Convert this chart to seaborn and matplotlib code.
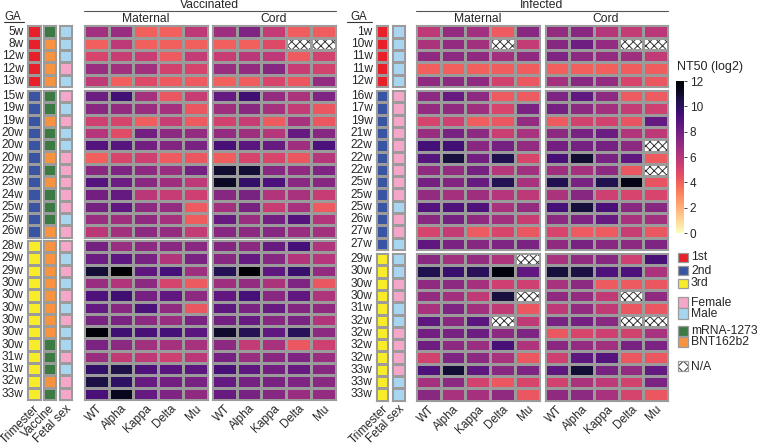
import numpy as np
import pandas as pd
import matplotlib
matplotlib.use('Agg')
import matplotlib.pyplot as plt
import seaborn as sns
from matplotlib.colors import ListedColormap
from matplotlib.patches import Rectangle

NA = np.nan
variants = ['WT', 'Alpha', 'Kappa', 'Delta', 'Mu']

# ---- vaccinated cohort ----
vacc_ga = ['5w', '8w', '12w', '12w', '13w',
           '15w', '19w', '19w', '20w', '20w', '20w', '22w', '23w', '24w', '25w', '25w', '26w',
           '28w', '29w', '29w', '30w', '30w', '30w', '30w', '30w', '30w', '31w', '31w', '32w', '33w']
vacc_trimester = ['1st', '1st', '1st', '1st', '1st',
                  '2nd', '2nd', '2nd', '2nd', '2nd', '2nd', '2nd', '2nd', '2nd', '2nd', '2nd', '2nd',
                  '3rd', '3rd', '3rd', '3rd', '3rd', '3rd', '3rd', '3rd', '3rd', '3rd', '3rd', '3rd', '3rd']
vacc_vaccine = ['mRNA-1273', 'BNT162b2', 'BNT162b2', 'BNT162b2', 'BNT162b2',
                'mRNA-1273', 'mRNA-1273', 'BNT162b2', 'mRNA-1273', 'mRNA-1273', 'BNT162b2', 'mRNA-1273',
                'BNT162b2', 'mRNA-1273', 'mRNA-1273', 'mRNA-1273', 'BNT162b2',
                'BNT162b2', 'BNT162b2', 'BNT162b2', 'BNT162b2', 'BNT162b2', 'BNT162b2', 'BNT162b2',
                'BNT162b2', 'mRNA-1273', 'mRNA-1273', 'mRNA-1273', 'BNT162b2', 'mRNA-1273']
vacc_sex = ['Male', 'Male', 'Male', 'Female', 'Male',
            'Female', 'Male', 'Female', 'Male', 'Male', 'Female', 'Female', 'Female', 'Female', 'Female', 'Male', 'Female',
            'Female', 'Male', 'Female', 'Male', 'Female', 'Male', 'Female', 'Male', 'Male', 'Female', 'Male', 'Female', 'Female']

vacc_maternal = [
    [6.6, 6.8, 4.0, 4.0, 5.8], [4.0, 5.8, 4.0, 4.0, 4.0], [5.0, 5.5, 5.5, 4.2, 5.6],
    [6.8, 6.6, 6.6, 5.2, 5.1], [5.7, 4.0, 4.8, 4.2, 4.2],
    [8.2, 9.4, 6.5, 4.3, 5.5], [7.3, 7.0, 6.8, 6.5, 4.3], [5.3, 5.1, 4.1, 5.5, 4.2],
    [6.0, 4.7, 8.0, 7.2, 7.0], [8.9, 8.8, 8.0, 7.5, 7.8], [4.0, 5.0, 5.3, 4.2, 4.3],
    [7.3, 7.6, 7.2, 6.8, 7.9], [8.9, 8.2, 7.3, 6.7, 5.8], [8.0, 8.4, 5.9, 5.5, 5.3],
    [7.9, 8.5, 7.2, 7.0, 4.2], [6.8, 6.7, 7.1, 6.5, 4.1], [5.9, 6.6, 7.2, 7.0, 5.6],
    [7.9, 6.8, 7.2, 7.3, 7.3], [8.2, 8.6, 7.8, 6.1, 7.7], [10.8, 12.0, 8.6, 9.3, 6.7],
    [6.8, 6.1, 7.2, 5.1, 4.2], [9.0, 9.5, 7.9, 8.5, 7.2], [8.4, 7.3, 9.1, 7.1, 4.3],
    [7.8, 7.7, 7.2, 6.8, 7.7], [11.8, 9.5, 9.2, 9.3, 8.7], [7.7, 7.2, 6.6, 6.5, 6.4],
    [6.8, 5.7, 5.8, 5.3, 5.9], [9.8, 10.4, 9.0, 8.7, 8.6], [10.5, 9.9, 8.3, 8.0, 7.8],
    [9.2, 11.3, 8.4, 7.6, 7.1],
]
vacc_cord = [
    [6.7, 7.6, 5.6, 4.1, 4.1], [4.0, 4.0, 4.8, NA, NA], [5.5, 5.9, 5.8, 4.2, 5.2],
    [6.8, 7.0, 7.4, 5.5, 5.2], [4.0, 4.1, 5.0, 4.3, 7.0],
    [8.4, 9.5, 7.0, 6.3, 7.6], [6.7, 7.3, 6.5, 5.6, 4.3], [5.2, 5.5, 4.2, 6.4, 4.3],
    [7.0, 6.7, 6.0, 8.4, 7.4], [9.2, 8.7, 8.3, 6.7, 9.1], [4.1, 5.1, 5.0, 4.3, 6.0],
    [10.9, 10.8, 7.4, 7.1, 7.6], [11.2, 9.8, 9.1, 7.3, 7.4], [7.4, 7.8, 6.1, 6.4, 5.5],
    [6.6, 7.8, 5.5, 6.4, 4.2], [8.3, 6.8, 8.0, 8.9, 6.1], [7.3, 7.2, 7.4, 6.8, 6.6],
    [7.5, 7.2, 8.3, 9.3, 6.2], [7.4, 8.4, 7.4, 6.1, 6.0], [10.2, 12.0, 8.6, 9.7, 7.0],
    [6.7, 7.0, 6.3, 7.6, 4.3], [8.5, 9.3, 7.3, 8.5, 6.2], [8.6, 7.7, 8.3, 7.5, 7.1],
    [8.0, 8.3, 7.4, 7.7, 6.1], [11.0, 10.2, 8.5, 10.1, 7.2], [7.2, 5.6, 6.4, 4.3, 5.3],
    [7.9, 6.8, 7.3, 7.6, 6.8], [9.2, 8.6, 8.0, 8.3, 7.4], [8.4, 7.9, 7.8, 7.6, 7.3],
    [8.3, 7.8, 7.4, 6.8, 7.0],
]

# ---- infected cohort ----
inf_ga = ['1w', '10w', '11w', '11w', '12w',
          '16w', '17w', '19w', '21w', '22w', '22w', '22w', '25w', '25w', '25w', '26w', '27w', '27w',
          '29w', '30w', '30w', '30w', '31w', '32w', '32w', '32w', '32w', '33w', '33w', '33w']
inf_trimester = ['1st', '1st', '1st', '1st', '1st',
                 '2nd', '2nd', '2nd', '2nd', '2nd', '2nd', '2nd', '2nd', '2nd', '2nd', '2nd', '2nd', '2nd',
                 '3rd', '3rd', '3rd', '3rd', '3rd', '3rd', '3rd', '3rd', '3rd', '3rd', '3rd', '3rd']
inf_sex = ['Male', 'Male', 'Male', 'Male', 'Male',
           'Female', 'Female', 'Female', 'Female', 'Female', 'Female', 'Female', 'Female', 'Female', 'Male',
           'Female', 'Female', 'Male',
           'Male', 'Male', 'Female', 'Female', 'Male', 'Male', 'Female', 'Female', 'Female', 'Female', 'Male', 'Male']

inf_maternal = [
    [5.8, 7.0, 6.6, 4.2, 7.3], [6.3, 7.0, 6.6, NA, 5.6], [7.1, 7.2, 7.1, 6.6, 7.1],
    [4.0, 4.0, 4.0, 4.1, 4.1], [7.1, 7.2, 7.1, 5.2, 4.3],
    [7.2, 8.3, 7.2, 4.2, 4.2], [7.0, 7.1, 6.7, 5.0, 7.7], [5.1, 5.3, 4.1, 4.3, 7.0],
    [6.8, 7.8, 7.2, 5.4, 6.4], [9.3, 9.4, 7.3, 7.9, 7.0], [8.8, 10.6, 8.0, 10.3, 5.0],
    [7.1, 7.0, 7.9, 6.0, 6.6], [7.9, 7.5, 8.3, 10.2, 6.4], [7.0, 6.5, 6.7, 6.0, 5.8],
    [8.9, 9.0, 9.0, 6.4, 7.0], [7.3, 7.9, 7.1, 6.6, 5.5], [5.1, 5.6, 4.2, 5.0, 4.3],
    [8.5, 7.7, 7.4, 7.6, 7.7],
    [7.3, 6.6, 7.0, 6.2, NA], [10.3, 9.7, 10.1, 11.7, 8.5], [7.1, 7.2, 6.5, 5.3, 5.3],
    [7.0, 6.6, 5.7, 10.6, NA], [6.4, 7.6, 6.6, 5.7, 4.3], [8.6, 7.3, 8.7, NA, 5.7],
    [8.0, 7.8, 8.2, 7.2, 7.6], [8.1, 7.2, 6.8, 9.2, 6.2], [5.2, 7.6, 7.2, 6.4, 4.3],
    [9.0, 10.8, 8.6, 7.3, 7.6], [6.5, 7.2, 5.2, 4.3, 5.0], [7.3, 6.4, 6.5, 7.1, 4.3],
]
inf_cord = [
    [7.0, 7.3, 6.0, 5.6, 5.9], [7.4, 8.1, 7.0, NA, NA], [7.6, 7.2, 7.0, 6.7, 5.7],
    [4.0, 4.0, 4.0, 4.1, 4.1], [6.5, 7.3, 7.0, 5.0, 4.3],
    [7.6, 8.5, 7.2, 4.2, 4.2], [7.9, 7.2, 6.6, 5.6, 5.3], [4.2, 5.2, 5.2, 4.4, 8.4],
    [7.2, 7.8, 8.2, 6.1, 5.8], [8.0, 7.9, 7.9, 7.2, NA], [9.2, 10.9, 7.8, 8.5, 4.2],
    [6.7, 6.5, 7.2, 4.3, NA], [10.3, 7.8, 10.3, 11.5, 4.4], [6.3, 7.4, 5.3, 5.0, 5.0],
    [9.3, 10.7, 9.2, 7.3, 7.4], [7.2, 7.6, 8.3, 6.4, 6.6], [5.0, 4.2, 4.2, 5.5, 4.3],
    [7.1, 7.8, 7.3, 7.2, 7.6],
    [6.4, 7.1, 7.4, 5.3, 9.2], [10.7, 10.5, 9.0, 9.1, 6.3], [6.4, 7.2, 4.2, 4.2, 4.3],
    [7.1, 7.0, 5.7, NA, 7.1], [5.8, 7.0, 5.7, 4.3, 4.3], [7.8, 7.9, 7.3, NA, NA],
    [4.3, 5.0, 5.3, 5.2, 6.4], [7.3, 7.0, 6.6, 7.8, 7.7], [5.3, 8.6, 8.9, 4.3, 4.3],
    [8.6, 10.8, 7.8, 7.0, 8.4], [5.2, 6.3, 5.8, 5.2, 7.7], [7.1, 7.2, 6.4, 5.1, 4.3],
]

trimester_order = ['1st', '2nd', '3rd']
trimester_colors = ['#e8202a', '#3a54a4', '#f8ec2a']
sex_order = ['Female', 'Male']
sex_colors = ['#f4a7c9', '#a8d5f0']
vaccine_order = ['mRNA-1273', 'BNT162b2']
vaccine_colors = ['#3b7b43', '#f7923f']

sns.set_style('white')
plt.rcParams['font.family'] = ['Liberation Sans', 'DejaVu Sans']
plt.rcParams['hatch.linewidth'] = 0.7

W, H = 757, 448
EDGE = '#9b9b9b'
RH = 12.3  # row height in px

fig = plt.figure(figsize=(W / 100, H / 100), dpi=100)


def px_axes(x0, x1, y0, y1):
    return fig.add_axes([x0 / W, 1 - y1 / H, (x1 - x0) / W, (y1 - y0) / H])


def frame(ax):
    for s in ax.spines.values():
        s.set_visible(True)
        s.set_color(EDGE)
        s.set_linewidth(0.8)


def block_ranges(tri):
    out, s = [], 0
    for i in range(1, len(tri) + 1):
        if i == len(tri) or tri[i] != tri[s]:
            out.append((s, i))
            s = i
    return out


cax = px_axes(676, 684, 81, 233)
cbar_holder = []


def draw_panel(ga, annots, maternal, cord, tops, mat_x, cord_x):
    ranges = block_ranges(annots[0][1])
    for b, ((s, e), top) in enumerate(zip(ranges, tops)):
        n = e - s
        last = b == len(ranges) - 1
        for j, (label, vals, order, colors, (x0, x1)) in enumerate(annots):
            ax = px_axes(x0, x1, top, top + n * RH)
            codes = pd.DataFrame([[order.index(v)] for v in vals[s:e]])
            sns.heatmap(codes, ax=ax, cmap=ListedColormap(colors), vmin=-0.5,
                        vmax=len(colors) - 0.5, cbar=False, linewidths=0.8,
                        linecolor=EDGE, xticklabels=[label] if last else False,
                        yticklabels=ga[s:e] if j == 0 else False)
            frame(ax)
            ax.tick_params(length=0, pad=2)
            if j == 0:
                ax.set_yticklabels(ga[s:e], rotation=0, fontsize=8.6)
            if last:
                ax.set_xticklabels([label], rotation=45, ha='right',
                                   rotation_mode='anchor', fontsize=8.5)
        for vals, (x0, x1) in [(maternal, mat_x), (cord, cord_x)]:
            ax = px_axes(x0, x1, top, top + n * RH)
            df = pd.DataFrame(vals[s:e], columns=variants)
            use_cbar = len(cbar_holder) == 0
            if use_cbar:
                sns.heatmap(df, ax=ax, cmap='magma_r', vmin=0, vmax=12,
                            cbar=True, cbar_ax=cax,
                            cbar_kws={'ticks': np.arange(0, 13, 2)},
                            linewidths=0.8, linecolor=EDGE,
                            xticklabels=variants if last else False, yticklabels=False)
                cbar_holder.append(ax.collections[0].colorbar)
            else:
                sns.heatmap(df, ax=ax, cmap='magma_r', vmin=0, vmax=12, cbar=False,
                            linewidths=0.8, linecolor=EDGE,
                            xticklabels=variants if last else False, yticklabels=False)
            for i in range(n):
                for k in range(len(variants)):
                    if np.isnan(df.iloc[i, k]):
                        ax.add_patch(Rectangle((k, i), 1, 1, facecolor='white',
                                               edgecolor='#333333', lw=0,
                                               hatch='xxxx', zorder=0.5))
            frame(ax)
            ax.tick_params(length=0, pad=2)
            if last:
                ax.set_xticklabels(variants, rotation=45, ha='right',
                                   rotation_mode='anchor', fontsize=8.5)


draw_panel(vacc_ga,
           [('Trimester', vacc_trimester, trimester_order, trimester_colors, (26.5, 40.5)),
            ('Vaccine', vacc_vaccine, vaccine_order, vaccine_colors, (42.5, 55.5)),
            ('Fetal sex', vacc_sex, sex_order, sex_colors, (59, 72))],
           vacc_maternal, vacc_cord, [25.5, 90, 240], (84, 207.5), (212, 335.5))

draw_panel(inf_ga,
           [('Trimester', inf_trimester, trimester_order, trimester_colors, (375.5, 388)),
            ('Fetal sex', inf_sex, sex_order, sex_colors, (392, 405))],
           inf_maternal, inf_cord, [25.5, 90, 253], (416, 539.5), (544.5, 668))

# colorbar styling
cax.tick_params(labelsize=8.5, length=2, width=0.6, pad=2)
if cbar_holder and cbar_holder[0] is not None:
    cbar_holder[0].outline.set_visible(False)

# overlay for headers and legend
ov = fig.add_axes([0, 0, 1, 1])
ov.set_xlim(0, W)
ov.set_ylim(H, 0)
ov.axis('off')

ov.text(210, 5, 'Vaccinated', ha='center', va='center', fontsize=8.7)
ov.plot([84, 335.5], [11.5, 11.5], color='#555555', lw=0.8)
ov.text(146, 18.5, 'Maternal', ha='center', va='center', fontsize=8.7)
ov.text(274, 18.5, 'Cord', ha='center', va='center', fontsize=8.7)
ov.text(542, 5, 'Infected', ha='center', va='center', fontsize=8.7)
ov.plot([416, 668], [11.5, 11.5], color='#555555', lw=0.8)
ov.text(478, 18.5, 'Maternal', ha='center', va='center', fontsize=8.7)
ov.text(606, 18.5, 'Cord', ha='center', va='center', fontsize=8.7)
for gx, (l0, l1) in [(13, (4, 24)), (359, (347, 372))]:
    ov.text(gx, 16.5, 'GA', ha='center', va='center', fontsize=8.3)
    ov.plot([l0, l1], [22.5, 22.5], color='#333333', lw=0.8)

ov.text(677, 67, 'NT50 (log2)', ha='left', va='center', fontsize=9)

legend_items = [
    ('1st', trimester_colors[0], 253, 9), ('2nd', trimester_colors[1], 266, 9),
    ('3rd', trimester_colors[2], 279, 9),
    ('Female', sex_colors[0], 297, 11), ('Male', sex_colors[1], 308.5, 11),
    ('mRNA-1273', vaccine_colors[0], 326, 10.5), ('BNT162b2', vaccine_colors[1], 337, 10.5),
]
for lab, col, y0, h in legend_items:
    ov.add_patch(Rectangle((678, y0), 9.5, h, facecolor=col, edgecolor=EDGE, lw=0.9))
    ov.text(691, y0 + h / 2, lab, ha='left', va='center', fontsize=8.7)
ov.add_patch(Rectangle((678, 361), 9.5, 10.5, facecolor='white', edgecolor='#333333',
                       lw=0, hatch='xxx'))
ov.add_patch(Rectangle((678, 361), 9.5, 10.5, facecolor='none', edgecolor=EDGE, lw=0.9))
ov.text(691, 366.5, 'N/A', ha='left', va='center', fontsize=8.7)

fig.savefig('out.png', dpi=100)
